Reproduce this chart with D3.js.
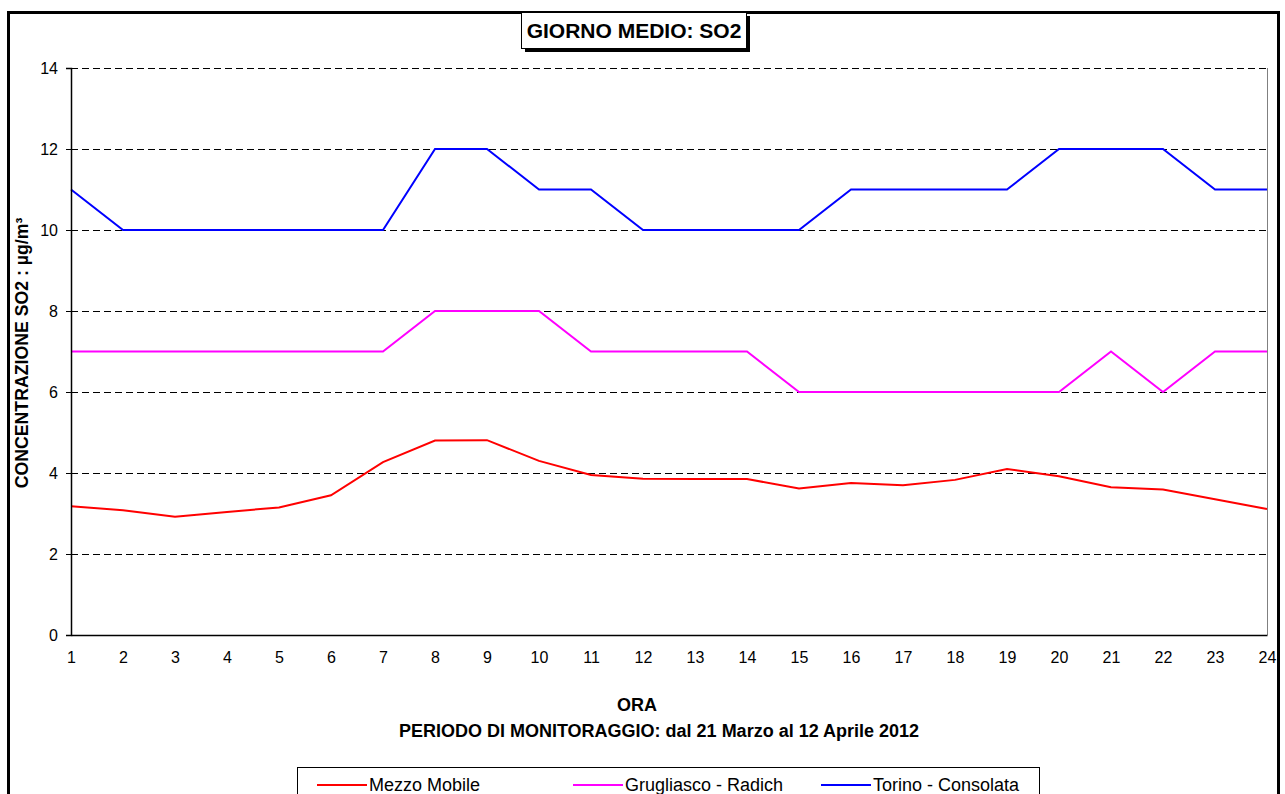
<!DOCTYPE html>
<html>
<head>
<meta charset="utf-8">
<title>Giorno medio SO2</title>
<script src="https://d3js.org/d3.v7.min.js"></script>
<style>
  body { margin: 0; background: #fff; }
  text { font-family: "Liberation Sans", Arial, sans-serif; }
</style>
</head>
<body>
<div id="chart"></div>
<script>
// ore del giorno
const ore = d3.range(1, 25);
const yTicks = [0, 2, 4, 6, 8, 10, 12, 14];

// valori (µg/m³)
const mezzoMobile = [3.18, 3.08, 2.92, 3.04, 3.15, 3.45, 4.27, 4.80, 4.81, 4.30, 3.95, 3.86,
                     3.85, 3.85, 3.62, 3.75, 3.70, 3.83, 4.10, 3.92, 3.65, 3.59, 3.35, 3.11];
const grugliasco = [7, 7, 7, 7, 7, 7, 7, 8, 8, 8, 7, 7, 7, 7, 6, 6, 6, 6, 6, 6, 7, 6, 7, 7];
const torino = [11, 10, 10, 10, 10, 10, 10, 12, 12, 11, 11, 10, 10, 10, 10, 11, 11, 11, 11, 12, 12, 12, 11, 11];

const serie = [
  {nome: "Mezzo Mobile", valori: mezzoMobile, colore: "#ff0000"},
  {nome: "Grugliasco - Radich", valori: grugliasco, colore: "#ff00ff"},
  {nome: "Torino - Consolata", valori: torino, colore: "#0000ff"}
];

const W = 1285, H = 794;
const margin = {top: 68, right: 18, bottom: 159, left: 71};
const w = W - margin.left - margin.right;
const h = H - margin.top - margin.bottom;

const svg = d3.select("#chart").append("svg")
    .attr("width", W)
    .attr("height", H);

// cornice esterna
svg.append("rect")
    .attr("x", 8.5).attr("y", 12.5)
    .attr("width", 1270).attr("height", 820)
    .attr("fill", "none")
    .attr("stroke", "#000")
    .attr("stroke-width", 3);

const g = svg.append("g")
    .attr("transform", "translate(" + margin.left + "," + margin.top + ")");

const x = d3.scaleLinear().domain([1, 24]).range([0, w]);
const y = d3.scaleLinear().domain([0, 14]).range([h, 0]);

// griglia tratteggiata
g.selectAll("line.grid")
    .data(yTicks.filter(d => d > 0))
    .enter().append("line")
    .attr("class", "grid")
    .attr("x1", 0).attr("x2", w)
    .attr("y1", d => y(d) + 0.5).attr("y2", d => y(d) + 0.5)
    .attr("stroke", "#000")
    .attr("stroke-dasharray", "7,4");

// bordo destro grigio
g.append("line")
    .attr("x1", w + 0.5).attr("x2", w + 0.5)
    .attr("y1", 0).attr("y2", h)
    .attr("stroke", "#808080");

// linee
const line = d3.line()
    .x((d, i) => x(ore[i]))
    .y(d => y(d));

g.selectAll("path.serie")
    .data(serie)
    .enter().append("path")
    .attr("class", "serie")
    .attr("d", d => line(d.valori))
    .attr("fill", "none")
    .attr("stroke", d => d.colore)
    .attr("stroke-width", 2);

// assi
const yAxis = d3.axisLeft(y).tickValues(yTicks).tickSize(5).tickPadding(8);
const gy = g.append("g").call(yAxis);
gy.select(".domain").attr("stroke", "#000").attr("stroke-width", 1.5);
gy.selectAll("text").attr("font-size", "16px").attr("fill", "#000");

const xAxis = d3.axisBottom(x).tickValues(ore).tickFormat(d3.format("d")).tickSize(0).tickPadding(17);
const gx = g.append("g").attr("transform", "translate(0," + h + ")").call(xAxis);
gx.select(".domain").attr("stroke", "#000").attr("stroke-width", 1.5);
gx.selectAll("text").attr("font-size", "16px").attr("fill", "#000");

// titolo
svg.append("rect")
    .attr("x", 525).attr("y", 16)
    .attr("width", 225).attr("height", 36)
    .attr("fill", "#000");
svg.append("rect")
    .attr("x", 521.5).attr("y", 12.5)
    .attr("width", 225).attr("height", 36)
    .attr("fill", "#fff")
    .attr("stroke", "#000");
svg.append("text")
    .attr("x", 634).attr("y", 38)
    .attr("text-anchor", "middle")
    .attr("font-size", "21px")
    .attr("font-weight", "bold")
    .text("GIORNO MEDIO: SO2");

// titoli assi
svg.append("text")
    .attr("transform", "translate(28,353) rotate(-90)")
    .attr("text-anchor", "middle")
    .attr("font-size", "17.7px")
    .attr("font-weight", "bold")
    .text("CONCENTRAZIONE SO2 :  µg/m³");

svg.append("text")
    .attr("x", 637).attr("y", 711)
    .attr("text-anchor", "middle")
    .attr("font-size", "18px")
    .attr("font-weight", "bold")
    .text("ORA");
svg.append("text")
    .attr("x", 659).attr("y", 737)
    .attr("text-anchor", "middle")
    .attr("font-size", "18px")
    .attr("font-weight", "bold")
    .text("PERIODO DI MONITORAGGIO: dal 21 Marzo al 12 Aprile 2012");

// legenda
svg.append("rect")
    .attr("x", 297.5).attr("y", 767.5)
    .attr("width", 742).attr("height", 60)
    .attr("fill", "#fff")
    .attr("stroke", "#000");

const legX = [317, 573, 821];
const leg = svg.selectAll("g.leg")
    .data(serie)
    .enter().append("g")
    .attr("class", "leg")
    .attr("transform", (d, i) => "translate(" + legX[i] + ",785)");
leg.append("line")
    .attr("x1", 0).attr("x2", 50)
    .attr("stroke", d => d.colore)
    .attr("stroke-width", 2);
leg.append("text")
    .attr("x", 52).attr("y", 6)
    .attr("font-size", "18px")
    .text(d => d.nome);
</script>
</body>
</html>
